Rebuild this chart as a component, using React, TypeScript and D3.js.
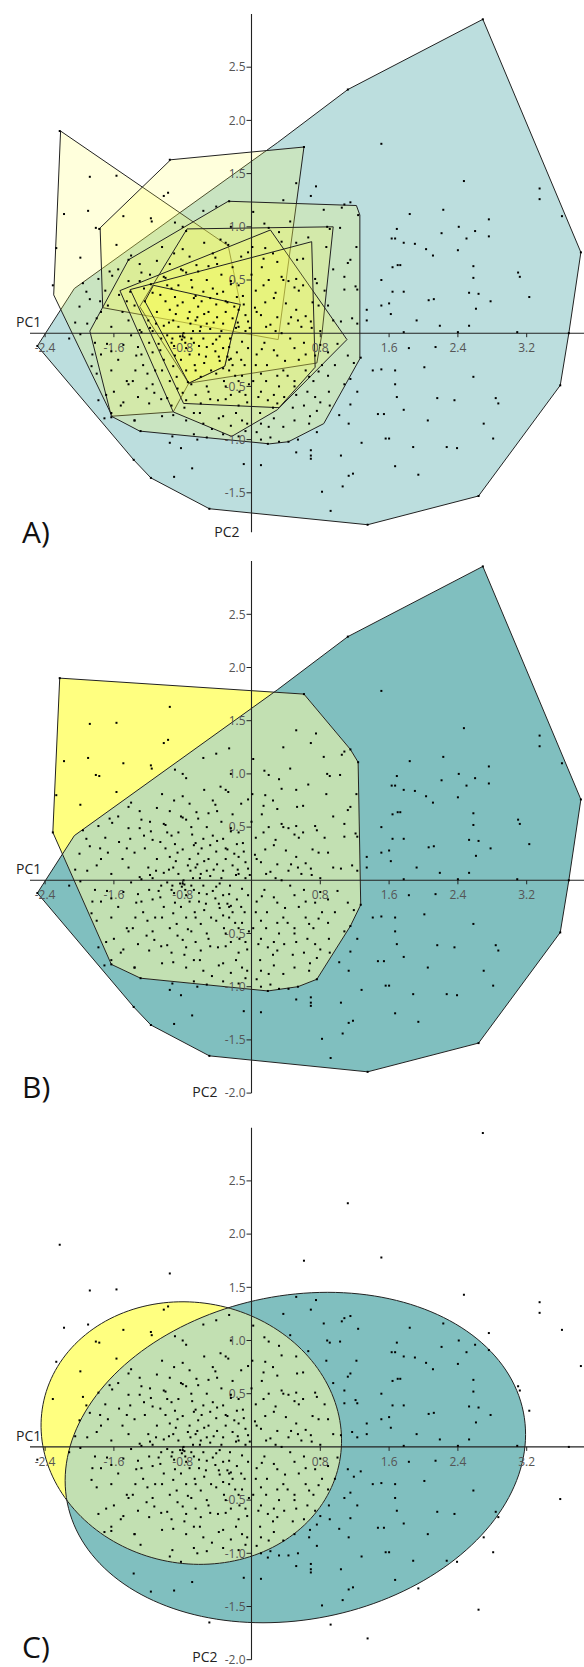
import React from 'react';
import * as d3 from 'd3';

// tick values
const xTicks = [-2.4, -1.6, -0.8, 0.8, 1.6, 2.4, 3.2];
const yTicksA = [2.5, 2.0, 1.5, 1.0, 0.5, -0.5, -1.0, -1.5];
const yTicksBC = [2.5, 2.0, 1.5, 1.0, 0.5, -0.5, -1.0, -1.5, -2.0];

// PCA scores (PC1, PC2)
const tealPoints: [number, number][] = [
  [2.69, 2.95], [1.12, 2.29], [1.51, 1.78], [3.83, 0.76], [3.69, 0.0], [3.59, -0.49], [2.64, -1.53],
  [1.35, -1.80], [-0.49, -1.65], [-1.17, -1.36], [-1.37, -1.19], [-2.49, -0.12],
  [2.47, 1.43], [3.35, 1.36], [3.35, 1.26], [2.23, 1.16], [1.84, 1.12], [2.76, 1.07], [3.61, 1.10],
  [1.69, 0.98], [2.41, 1.00], [2.21, 0.94], [2.60, 0.96], [2.76, 0.91], [1.63, 0.89], [1.67, 0.89],
  [1.77, 0.85], [1.90, 0.84], [2.03, 0.79], [2.50, 0.89], [2.40, 0.78], [2.11, 0.73], [1.70, 0.64],
  [1.64, 0.62], [1.73, 0.64], [2.58, 0.63], [3.10, 0.57], [3.12, 0.53], [1.51, 0.50], [2.58, 0.52],
  [1.64, 0.39], [1.77, 0.39], [2.06, 0.31], [2.12, 0.32], [2.53, 0.38], [2.64, 0.37], [3.23, 0.34],
  [2.78, 0.30], [1.51, 0.26], [1.60, 0.28], [1.62, 0.18], [2.61, 0.23], [1.92, 0.12], [2.19, 0.07],
  [2.40, 0.01], [2.53, 0.07], [3.09, 0.01], [1.77, 0.01], [1.34, 0.12], [1.34, 0.22],
  [1.83, -0.14], [2.14, -0.13], [1.41, -0.35], [1.51, -0.34], [1.67, -0.35], [2.01, -0.32], [2.58, -0.41],
  [1.67, -0.48], [1.69, -0.60], [2.16, -0.61], [2.36, -0.63], [2.84, -0.61], [2.87, -0.66], [1.77, -0.72],
  [1.15, -0.67], [1.23, -0.55], [1.02, -0.77], [1.13, -0.85], [1.47, -0.76], [1.54, -0.76], [2.05, -0.82],
  [2.70, -0.85], [1.56, -0.99], [1.60, -0.99], [1.88, -1.07], [2.27, -1.07], [2.39, -1.08], [2.81, -0.99],
  [1.28, -1.03], [0.69, -1.10], [0.69, -1.15], [0.69, -1.18], [1.04, -1.15], [0.52, -1.12], [0.43, -1.02],
  [1.67, -1.25], [1.94, -1.33], [1.13, -1.34], [1.18, -1.32], [1.06, -1.44], [0.82, -1.49], [0.92, -1.67],
  [-0.09, -1.23], [0.11, -1.24], [-0.69, -1.27], [-0.90, -1.35], [-0.95, -1.03], [-0.92, -0.97],
  [-0.82, -1.08], [-0.63, -1.00], [-1.78, -0.63], [-1.71, -0.80], [-1.36, -0.82],
];

const yellowPoints: [number, number][] = [
  [-2.23, 1.90], [0.61, 1.75], [1.15, 1.23], [1.24, 1.11], [1.27, -0.23], [1.15, -0.43], [0.76, -0.93],
  [0.54, -1.00], [0.19, -1.04], [-1.29, -0.92], [-1.63, -0.79], [-2.31, 0.45],
  [-0.95, 1.63], [-1.88, 1.47], [-1.57, 1.48], [-1.02, 1.29], [-0.97, 1.32], [-1.90, 1.15], [-2.18, 1.12],
  [-1.49, 1.10], [-1.17, 1.08], [-1.16, 1.05], [-1.81, 0.99], [-1.77, 0.98], [-1.57, 0.83], [-2.27, 0.80],
  [-1.99, 0.71], [-1.96, 0.47],
  [0.52, 1.41], [0.75, 1.38], [0.69, 1.29], [0.37, 1.25], [1.05, 1.18], [1.08, 1.21], [0.84, 1.16],
  [-0.41, 1.19], [-0.26, 1.24], [0.02, 1.14], [-0.56, 1.15], [0.15, 1.03], [0.20, 0.99], [-0.24, 1.00],
  [-0.80, 1.00], [-0.76, 0.96], [-0.89, 1.04], [0.88, 1.00], [0.91, 0.98], [1.03, 0.99], [0.35, 0.86],
  [0.52, 0.85], [0.66, 0.90], [0.87, 0.81], [1.22, 0.81], [-0.30, 0.85], [-0.27, 0.83], [-1.04, 0.81],
  [-0.80, 0.79], [0.01, 0.81], [-0.04, 0.76], [0.16, 0.80], [-0.42, 0.71], [0.14, 0.70], [0.53, 0.69],
  [0.30, 0.67], [1.15, 0.69], [1.12, 0.66], [-1.40, 0.73], [-1.43, 0.69], [-0.50, 0.63], [-0.64, 0.64],
  [-0.80, 0.59], [-0.76, 0.57], [-1.02, 0.53], [-1.00, 0.52], [-0.24, 0.49], [-0.24, 0.46], [0.35, 0.53],
  [0.37, 0.50], [0.43, 0.49], [0.52, 0.51], [0.50, 0.43], [0.74, 0.51], [0.76, 0.47], [1.08, 0.53],
  [1.21, 0.44], [-1.65, 0.58], [-1.62, 0.54], [-1.78, 0.51], [-1.28, 0.57], [-1.30, 0.49], [-1.43, 0.49],
  [-1.17, 0.46], [-1.92, 0.39], [-1.88, 0.32], [-1.76, 0.30], [-1.67, 0.26], [-1.54, 0.36], [-1.41, 0.39],
  [-1.36, 0.26], [-1.24, 0.30], [-1.15, 0.38], [-1.06, 0.36], [-0.93, 0.42], [-0.89, 0.34], [-0.80, 0.29],
  [-0.69, 0.43], [-0.67, 0.33], [-0.56, 0.39], [-0.48, 0.33], [-0.41, 0.27], [-0.33, 0.39], [-0.28, 0.29],
  [-0.17, 0.34], [-0.15, 0.22], [-0.09, 0.27], [-0.07, 0.17], [0.04, 0.24], [0.11, 0.17], [0.16, 0.29],
  [0.26, 0.33], [0.52, 0.22], [0.54, 0.12], [0.63, 0.16], [0.71, 0.29], [0.78, 0.26], [0.89, 0.26],
  [0.95, 0.12], [1.08, 0.41], [1.17, 0.14], [1.23, 0.41],
  [-1.91, 0.09], [-1.80, 0.14], [-1.63, 0.06], [-1.43, 0.12], [-1.30, 0.03], [-1.28, 0.01], [-1.15, 0.02],
  [-1.11, 0.09], [-1.02, 0.07], [-0.91, 0.12], [-0.85, 0.06], [-0.80, -0.03], [-0.78, -0.04], [-0.71, 0.09],
  [-0.65, 0.12], [-0.59, 0.06], [-0.52, 0.09], [-0.48, 0.04], [-0.37, -0.03], [-0.33, 0.09], [-0.22, 0.14],
  [-0.15, 0.06], [-0.07, 0.02], [-0.04, 0.11], [0.17, 0.06], [0.28, 0.02], [0.43, 0.09], [0.58, 0.06],
  [0.69, 0.11], [0.80, 0.02], [1.04, 0.11], [1.23, 0.09],
  [-1.99, -0.01], [-1.82, -0.09], [-1.75, -0.20], [-1.86, -0.31], [-1.63, -0.17], [-1.49, -0.11],
  [-1.32, -0.13], [-1.34, -0.21], [-1.19, -0.09], [-1.15, -0.18], [-1.26, -0.30], [-1.06, -0.16],
  [-1.02, -0.25], [-0.89, -0.21], [-0.93, -0.09], [-0.76, -0.14], [-0.67, -0.09], [-0.61, -0.20],
  [-0.52, -0.13], [-0.41, -0.06], [-0.33, -0.14], [-0.26, -0.13], [-0.17, -0.18], [-0.11, -0.08],
  [-0.04, -0.14], [0.06, -0.20], [0.15, -0.09], [0.26, -0.16], [0.30, -0.21], [0.39, -0.26], [0.50, -0.14],
  [0.63, -0.20], [0.61, -0.09], [0.74, -0.21], [0.80, -0.11], [0.89, -0.18], [0.97, -0.30], [1.12, -0.21],
  [1.19, -0.28], [-1.80, -0.38], [-1.63, -0.35], [-1.45, -0.45], [-1.43, -0.48], [-1.21, -0.38],
  [-1.15, -0.48], [-1.04, -0.35], [-0.91, -0.31], [-0.87, -0.41], [-0.76, -0.35], [-0.74, -0.46],
  [-0.65, -0.35], [-0.59, -0.41], [-0.52, -0.50], [-0.41, -0.38], [-0.33, -0.33], [-0.26, -0.35],
  [-0.22, -0.30], [-0.15, -0.45], [-0.11, -0.40], [-0.03, -0.48], [0.11, -0.38], [0.17, -0.45],
  [0.30, -0.40], [0.37, -0.35], [0.50, -0.45], [0.63, -0.35], [0.67, -0.41], [0.78, -0.36], [0.89, -0.40],
  [1.08, -0.48], [-1.69, -0.58], [-1.49, -0.65], [-1.32, -0.60], [-1.19, -0.66], [-1.13, -0.56],
  [-0.98, -0.61], [-0.93, -0.68], [-0.80, -0.56], [-0.76, -0.63], [-0.65, -0.58], [-0.59, -0.66],
  [-0.50, -0.55], [-0.39, -0.63], [-0.30, -0.50], [-0.24, -0.58], [-0.15, -0.68], [-0.07, -0.58],
  [0.11, -0.55], [0.19, -0.63], [0.26, -0.58], [0.30, -0.66], [0.50, -0.50], [0.52, -0.58], [0.61, -0.68],
  [0.74, -0.60], [0.80, -0.65], [0.76, -0.73], [0.91, -0.68], [-1.63, -0.75], [-1.36, -0.82],
  [-1.04, -0.78], [-0.91, -0.77], [-0.76, -0.82], [-0.67, -0.75], [-0.56, -0.85], [-0.46, -0.90],
  [-0.33, -0.78], [-0.24, -0.87], [-0.11, -0.82], [-0.07, -0.92], [0.11, -0.85], [0.26, -0.80],
  [0.37, -0.88], [0.50, -0.82], [0.67, -0.85], [-0.67, -0.95], [-0.52, -0.98], [-0.33, -0.95],
  [-0.15, -0.97], [0.06, -0.93], [0.11, -1.00], [0.22, -0.98], [0.32, -1.02],
  [-0.95, 0.22], [-0.88, 0.18], [-0.72, 0.20], [-0.62, 0.25], [-0.55, 0.18], [-0.40, 0.15], [-0.30, 0.20],
  [-0.45, 0.42], [-0.70, 0.50], [-0.85, 0.45], [-1.10, 0.20], [-1.20, 0.12], [-0.98, -0.02], [-0.70, -0.05],
  [-0.60, 0.02], [-0.45, -0.10], [-0.25, -0.05], [-0.18, 0.05], [-0.90, -0.12], [-1.05, -0.05],
  [-0.82, -0.25], [-0.55, -0.28], [-0.38, -0.22], [-0.12, -0.25], [0.05, -0.30], [-0.65, 0.35],
  [-0.35, 0.55], [-0.15, 0.45], [0.05, 0.40], [0.20, 0.50], [0.30, 0.15], [0.45, -0.05], [0.55, 0.40],
  [-1.35, -0.35], [-1.55, -0.25], [-1.50, 0.20], [-1.70, 0.40], [-2.05, 0.10], [-0.95, 0.65],
  [-0.55, 0.85], [-0.40, 0.65],
  [-1.25, 0.42], [-1.18, 0.05], [-1.08, -0.10], [-1.00, 0.30], [-0.96, 0.10], [-0.92, -0.05], [-0.86, 0.26],
  [-0.83, -0.03], [-0.81, -0.06], [-0.79, 0.00], [-0.77, -0.09], [-0.74, 0.14], [-0.72, -0.20], [-0.68, 0.02],
  [-0.66, -0.30], [-0.63, 0.15], [-0.61, -0.12], [-0.58, 0.30], [-0.56, -0.05], [-0.53, -0.22], [-0.50, 0.20],
  [-0.47, -0.35], [-0.44, 0.10], [-0.42, -0.17], [-0.40, 0.37], [-0.37, -0.26], [-0.35, 0.02], [-0.32, -0.45],
  [-0.30, 0.30], [-0.28, -0.22], [-0.26, -0.25], [-0.24, -0.24], [-0.20, 0.25], [-0.19, -0.40], [-0.16, 0.10],
  [-0.14, -0.55], [-0.10, 0.35], [-0.08, -0.30], [-0.05, -0.65], [-0.02, 0.05], [0.02, -0.45], [0.06, 0.20],
  [0.08, -0.60], [0.12, -0.15], [0.14, 0.45], [0.18, -0.30], [0.22, 0.08], [0.25, -0.70], [0.28, 0.38],
  [0.32, -0.50], [0.35, 0.00], [0.38, -0.60], [0.40, 0.28], [0.42, -0.40], [0.46, 0.15], [0.48, -0.70],
  [0.55, -0.25], [0.60, 0.45], [0.65, -0.55], [0.70, 0.05], [0.72, -0.45], [0.85, 0.40], [0.90, -0.55],
  [0.95, 0.60], [1.00, -0.10], [-1.45, 0.30], [-1.40, -0.02], [-1.38, -0.45], [-1.30, 0.65], [-1.28, -0.20],
  [-1.22, -0.52], [-1.18, 0.55], [-1.12, -0.35], [-1.10, 0.68], [-1.05, -0.62], [-0.98, 0.45], [-0.95, -0.45],
  [-0.90, 0.75], [-0.86, -0.52], [-0.82, 0.60], [-0.78, -0.70], [-0.72, 0.72], [-0.70, -0.48], [-0.62, 0.58],
  [-0.60, -0.75], [-0.52, 0.50], [-0.48, -0.62], [-0.45, 0.75], [-0.38, -0.80], [-0.36, 0.88], [-0.30, -0.62],
  [-0.22, 0.62], [-0.18, -0.75], [-0.12, 0.72], [-0.05, -0.85], [0.00, 0.55], [0.10, -0.75], [0.12, 0.62],
  [0.20, -0.88], [0.25, 0.75], [0.32, 0.95], [0.45, 1.05], [0.60, 0.70], [0.68, -0.78], [0.82, -0.30],
  [-1.60, -0.55], [-1.55, 0.60], [-1.68, -0.10], [-1.75, 0.20], [-1.85, -0.20], [-2.00, 0.25],
  [-1.52, -0.68], [-2.12, -0.05],
];

// convex hulls (panels A and B)
const tealHull: [number, number][] = [
  [2.69, 2.95], [3.83, 0.76], [3.69, 0.0], [3.59, -0.49], [2.64, -1.53], [1.35, -1.80], [-0.49, -1.65],
  [-1.17, -1.36], [-1.37, -1.19], [-2.49, -0.12], [-2.06, 0.42], [0.30, 1.79], [1.12, 2.29],
];
const yellowHull: [number, number][] = [
  [-2.23, 1.90], [0.61, 1.75], [1.15, 1.23], [1.24, 1.11], [1.27, -0.23], [1.15, -0.43], [0.76, -0.93],
  [0.54, -1.00], [0.19, -1.04], [-1.29, -0.92], [-1.63, -0.79], [-2.31, 0.45],
];
const subHull1: [number, number][] = [[-2.22, 1.90], [-0.27, 0.82], [-0.13, 0.27], [-0.23, -0.03], [-0.31, -0.31], [-0.73, -0.47], [-0.91, -0.74], [-1.62, -0.78], [-2.30, 0.36]];
const subHull2: [number, number][] = [[-0.94, 1.63], [0.61, 1.75], [0.31, -0.06], [-1.73, 0.24], [-1.76, 0.99]];
const subHull3: [number, number][] = [[-0.27, 1.24], [1.22, 1.20], [1.26, 1.11], [1.26, -0.24], [0.84, -0.85], [0.43, -1.02], [0.21, -1.04], [-1.30, -0.92], [-1.63, -0.78], [-1.88, 0.02], [-1.43, 0.69]];
const subHull4: [number, number][] = [[-0.75, 0.98], [0.95, 1.00], [0.82, 0.0], [0.76, -0.28], [-0.73, -0.47], [-1.30, 0.25]];
const subHull5: [number, number][] = [[0.22, 0.97], [1.11, -0.06], [0.30, -0.72], [-0.23, -0.97], [-0.91, -0.74], [-1.53, 0.40]];
const subHull6: [number, number][] = [[0.70, 0.86], [0.74, -0.32], [0.32, -0.70], [-0.79, -0.66], [-1.41, 0.41]];
const subHull7: [number, number][] = [[-1.14, 0.45], [-0.13, 0.27], [-0.23, -0.03], [-0.31, -0.31], [-0.73, -0.47], [-1.24, 0.30]];
const subHulls = [subHull1, subHull2, subHull3, subHull4, subHull5, subHull6, subHull7];

// 95% ellipses (panel C): centre x, centre y, semi-axis a, semi-axis b, angle (rad)
const tealEllipse = [0.51, -0.10, 2.69, 1.53, 0.12];
const yellowEllipse = [-0.70, 0.13, 1.75, 1.23, -0.08];

const W = 584;
const H = 1667;
const X0 = 251.5;
const PX_X = 86;
const PX_Y = 106.4;
const FONT = "'Open Sans', 'Noto Sans', sans-serif";

const TEAL_A = '#bcdede';
const TEAL = '#80bfbf';
const YELLOW = '#ffff80';
const OVERLAP = '#c2e0b2';

function scales(zeroY: number) {
  const x = d3.scaleLinear().domain([0, 1]).range([X0, X0 + PX_X]);
  const y = d3.scaleLinear().domain([0, 1]).range([zeroY, zeroY - PX_Y]);
  return { x, y };
}

function ellipsePts(e: number[]): [number, number][] {
  const [cx, cy, a, b, th] = e;
  return d3.range(0, 2 * Math.PI, Math.PI / 90).map((t) => [
    cx + a * Math.cos(th) * Math.cos(t) - b * Math.sin(th) * Math.sin(t),
    cy + a * Math.sin(th) * Math.cos(t) + b * Math.cos(th) * Math.sin(t),
  ] as [number, number]);
}

function Axes({ x, y, yTicks, yLow, name, nameY, pc2Dx, pc2Y }: any) {
  const ox = x(0);
  const oy = y(0);
  return (
    <g fontFamily={FONT}>
      <line x1={30} x2={W} y1={oy} y2={oy} stroke="#222" strokeWidth={1.1} />
      <line x1={ox} x2={ox} y1={y(3.0)} y2={y(yLow)} stroke="#222" strokeWidth={1.1} />
      {yTicks.map((t: number) => (
        <g key={'y' + t}>
          <line x1={ox - 5} x2={ox} y1={y(t)} y2={y(t)} stroke="#222" />
          <text x={ox - 6} y={y(t)} dy="0.35em" textAnchor="end" fontSize={12} fill="#555">{t.toFixed(1)}</text>
        </g>
      ))}
      {xTicks.map((t) => (
        <g key={'x' + t}>
          <line x1={x(t)} x2={x(t)} y1={oy} y2={oy + 4} stroke="#222" />
          <text x={x(t)} y={oy + 19} textAnchor="middle" fontSize={12} fill="#555">{t.toFixed(1)}</text>
        </g>
      ))}
      <text x={16} y={oy - 6} fontSize={14} fill="#222">PC1</text>
      <text x={ox - pc2Dx} y={pc2Y} textAnchor="end" fontSize={14} fill="#222">PC2</text>
      <text x={22} y={nameY} fontSize={30} fill="#111">{name}</text>
    </g>
  );
}

function Points({ x, y }: any) {
  const all = tealPoints.concat(yellowPoints);
  return (
    <g fill="#000">
      {all.map((p, i) => (
        <rect key={i} x={x(p[0]) - 1} y={y(p[1]) - 1} width={2} height={2} />
      ))}
    </g>
  );
}

function PanelA() {
  const { x, y } = scales(333.2);
  const hull = d3.line<[number, number]>().x((d) => x(d[0])).y((d) => y(d[1])).curve(d3.curveLinearClosed);
  return (
    <g>
      <path d={hull(tealHull) || ''} fill={TEAL_A} stroke="#222" strokeWidth={1} />
      {subHulls.map((h, i) => (
        <path key={i} d={hull(h) || ''} fill="rgb(255,255,80)" fillOpacity={0.2} stroke="#222" strokeWidth={1} />
      ))}
      <Axes x={x} y={y} yTicks={yTicksA} yLow={-1.87} name="A)" nameY={543} pc2Dx={12} pc2Y={537} />
      <Points x={x} y={y} />
    </g>
  );
}

function TwoGroupPanel({ zeroY, shapeA, shapeB, id, name, nameY, pc2Y }: any) {
  const { x, y } = scales(zeroY);
  const line = d3.line<[number, number]>().x((d) => x(d[0])).y((d) => y(d[1])).curve(d3.curveLinearClosed);
  const tealD = line(shapeA) || '';
  const yellowD = line(shapeB) || '';
  return (
    <g>
      <defs>
        <clipPath id={id}>
          <path d={tealD} />
        </clipPath>
      </defs>
      <path d={tealD} fill={TEAL} />
      <path d={yellowD} fill={YELLOW} />
      <path d={yellowD} fill={OVERLAP} clipPath={`url(#${id})`} />
      <path d={tealD} fill="none" stroke="#222" strokeWidth={1} />
      <path d={yellowD} fill="none" stroke="#222" strokeWidth={1} />
      <Axes x={x} y={y} yTicks={yTicksBC} yLow={-2.0} name={name} nameY={nameY} pc2Dx={34} pc2Y={pc2Y} />
      <Points x={x} y={y} />
    </g>
  );
}

export default function App() {
  return (
    <svg
      width={W}
      height={H}
      style={{ position: 'absolute', left: 0, top: 0, background: '#fff' }}
    >
      <rect width={W} height={H} fill="#fff" />
      <PanelA />
      <TwoGroupPanel zeroY={880.3} shapeA={tealHull} shapeB={yellowHull} id="clipB" name="B)" nameY={1098} pc2Y={1097} />
      <TwoGroupPanel
        zeroY={1446.9}
        shapeA={ellipsePts(tealEllipse)}
        shapeB={ellipsePts(yellowEllipse)}
        id="clipC"
        name="C)"
        nameY={1658}
        pc2Y={1662}
      />
    </svg>
  );
}
